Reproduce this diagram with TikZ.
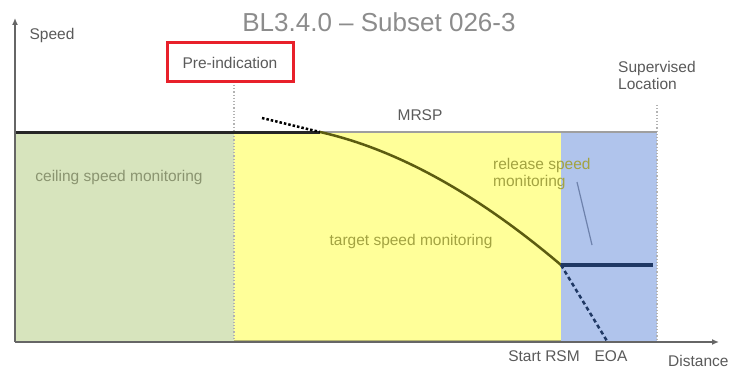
\documentclass[tikz,border=0pt]{standalone}
\usepackage{fontspec}
\setmainfont{Liberation Sans}
\usetikzlibrary{arrows.meta}
\definecolor{greenfill}{HTML}{D7E4BD}
\definecolor{yellowfill}{HTML}{FFFF99}
\definecolor{bluefill}{HTML}{B0C4EC}
\definecolor{curvecol}{HTML}{5C5C10}
\definecolor{navy}{HTML}{1F3864}
\definecolor{labelgray}{HTML}{5A5A5A}
\definecolor{titlegray}{HTML}{8C8C8C}
\definecolor{olivetext}{HTML}{A3A341}
\definecolor{greentext}{HTML}{8A9470}
\definecolor{pointer}{HTML}{6E82AC}
\definecolor{redbox}{HTML}{E8202A}
\definecolor{yellowedge}{HTML}{B8B870}
\tikzset{
  lbl/.style={font=\fontsize{15.5}{17}\selectfont, text=labelgray, inner sep=0pt},
  axisline/.style={draw=gray!80!black, line width=2pt, -{Latex[length=7pt,width=6pt]}},
  guide/.style={draw=gray!60, line width=1.2pt, dotted},
}
\begin{document}
\begin{tikzpicture}[x=1pt,y=-1pt]
\useasboundingbox (0,0) rectangle (729,369);
\fill[white] (0,0) rectangle (729,369);
% regions
\fill[greenfill] (15,132) rectangle (234,341);
\fill[yellowfill] (234,132) rectangle (561,341);
\fill[bluefill] (561,132) rectangle (657,341);
\draw[yellowedge, line width=1.2pt] (234,340.5) -- (561,340.5);
% dotted guides
\draw[guide] (234,85) -- (234,341);
\draw[guide] (657,105) -- (657,341);
% top of regions (MRSP)
\draw[gray!75, line width=2pt] (234,132) -- (657,132);
\draw[black!85, line width=3pt] (15,132) -- (320,132);
% axes
\coordinate (O) at (15,342);
\coordinate (ytip) at (15,18);
\coordinate (xtip) at (719,342);
\draw[axisline] (O) -- (ytip);
\draw[axisline] (O) -- (xtip);
% braking curve
\coordinate (c0) at (262,118);
\coordinate (c1) at (320,132);
\coordinate (rsm) at (561,265);
\coordinate (eoa) at (607,341);
\coordinate (rsend) at (653,265);
\draw[black, line width=2.5pt, dotted] (c0) -- (c1);
\draw[curvecol, line width=2.5pt] (c1) .. controls (400,150) and (481,197) .. (rsm);
\draw[navy, line width=3.2pt] (rsm) -- (rsend);
\draw[navy, line width=2.5pt, dash pattern=on 4pt off 3pt] (rsm) -- (eoa);
% labels
\node[font=\fontsize{26}{28}\selectfont, text=titlegray, inner sep=0pt] (title) at (379,22) {BL3.4.0 – Subset 026-3};
\node[lbl] (speed) at (52,35) {Speed};
\node[lbl, draw=redbox, line width=3pt, minimum width=126pt, minimum height=39pt] (pre) at (230,62.5) {Pre-indication};
\node[lbl, align=left, anchor=north west] (sup) at (618,61) {Supervised\\Location};
\node[lbl] (mrsp) at (420,115) {MRSP};
\node[lbl, text=greentext] (csm) at (119,177) {ceiling speed monitoring};
\node[lbl, text=olivetext] (tsm) at (411,241) {target speed monitoring};
\node[lbl, text=olivetext, align=left, anchor=north west] (rsmon) at (493,158) {release speed\\monitoring};
\coordinate (pa) at (577,182);
\coordinate (pb) at (592,245);
\draw[pointer, line width=1.2pt] (pa) -- (pb);
\node[lbl] (startrsm) at (544,356) {Start RSM};
\node[lbl] (eoalbl) at (611,356) {EOA};
\node[lbl, anchor=west] (dist) at (668,361) {Distance};
\end{tikzpicture}
\end{document}
